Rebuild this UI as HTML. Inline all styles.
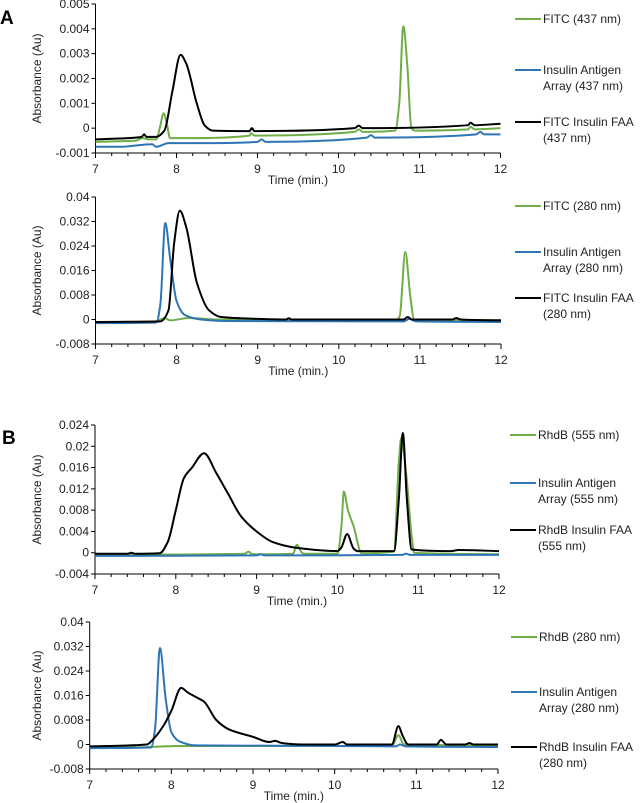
<!DOCTYPE html>
<html><head><meta charset="utf-8"><style>
html,body{margin:0;padding:0;background:#fff;}
svg{display:block;font-family:"Liberation Sans",Arial,sans-serif;}
</style></head><body>
<svg id="fig" width="643" height="803" viewBox="0 0 643 803">
<text x="0" y="24" font-size="19" font-weight="bold">A</text>
<text x="2" y="444" font-size="19" font-weight="bold">B</text>
</svg>
<script>
// ----- data (values in units of 0.001 Au, time in min) -----
const xTicks = [7, 8, 9, 10, 11, 12];
const p1Ticks = [-1, 0, 1, 2, 3, 4, 5];
const p1TickLabels = ["-0.001", "0", "0.001", "0.002", "0.003", "0.004", "0.005"];
const p2Ticks = [-8, 0, 8, 16, 24, 32, 40];
const p2TickLabels = ["-0.008", "0", "0.008", "0.016", "0.024", "0.032", "0.04"];
const p3Ticks = [-4, 0, 4, 8, 12, 16, 20, 24];
const p3TickLabels = ["-0.004", "0", "0.004", "0.008", "0.012", "0.016", "0.02", "0.024"];
const p4Ticks = [-8, 0, 8, 16, 24, 32, 40];
const p4TickLabels = ["-0.008", "0", "0.008", "0.016", "0.024", "0.032", "0.04"];

const p1Green = [[7,-0.55],[7.5,-0.5],[7.58,-0.4],[7.65,-0.45],[7.75,-0.45],[7.8,0.1],[7.84,0.6],[7.88,0.2],[7.92,-0.4],[8.2,-0.4],[8.9,-0.3],[8.92,-0.2],[8.96,-0.3],[10.2,-0.15],[10.25,-0.05],[10.3,-0.15],[10.7,-0.1],[10.75,1.0],[10.8,4.1],[10.85,2.5],[10.9,0.0],[10.95,-0.1],[11.6,-0.05],[11.63,0.05],[11.68,-0.05],[12,0.0]];
const p1Blue = [[7,-0.75],[7.3,-0.75],[7.7,-0.65],[7.75,-0.75],[7.9,-0.6],[8.5,-0.6],[9,-0.55],[9.05,-0.45],[9.1,-0.55],[10.35,-0.38],[10.4,-0.28],[10.45,-0.38],[11.7,-0.25],[11.75,-0.15],[11.8,-0.25],[12,-0.25]];
const p1Black = [[7,-0.45],[7.4,-0.4],[7.57,-0.35],[7.6,-0.25],[7.63,-0.35],[7.75,-0.35],[7.85,-0.1],[7.95,1.5],[8.05,2.95],[8.12,2.6],[8.25,1.0],[8.35,0.1],[8.45,-0.1],[8.9,-0.12],[8.93,0],[8.96,-0.12],[10.2,0.0],[10.25,0.1],[10.3,0.0],[11.6,0.12],[11.63,0.22],[11.68,0.12],[12,0.18]];

const p2Green = [[7,-0.9],[7.75,-0.6],[7.85,0.5],[7.92,-0.3],[8.15,0.5],[8.5,0.0],[10.7,-0.3],[10.75,1],[10.82,22],[10.88,8],[10.93,0],[12,-0.2]];
const p2Blue = [[7,-1.2],[7.75,-1.0],[7.8,5],[7.86,31.5],[7.92,20],[8.0,6],[8.1,1.5],[8.3,0],[8.6,-0.5],[10.8,-0.6],[10.87,0.2],[10.95,-0.6],[12,-0.8]];
const p2Black = [[7,-0.8],[7.8,-0.6],[7.9,3],[7.97,25],[8.04,35.5],[8.12,30],[8.25,12],[8.4,3],[8.55,0.8],[9,0.2],[9.35,0],[9.38,0.4],[9.42,0],[10.8,0],[10.85,0.8],[10.9,0],[11.4,0],[11.45,0.5],[11.5,0],[12,-0.3]];

const p3Green = [[7,-0.4],[8.85,-0.2],[8.9,0.2],[8.95,-0.3],[9.45,-0.2],[9.5,1.5],[9.56,0],[9.6,-0.2],[10.0,-0.2],[10.05,5],[10.08,11.5],[10.13,8],[10.2,5],[10.3,-0.1],[10.7,0.2],[10.76,17],[10.79,21.5],[10.85,15],[10.92,3],[10.95,0],[12,-0.3]];
const p3Blue = [[7,-0.6],[9.0,-0.5],[9.05,-0.3],[9.1,-0.5],[10.8,-0.4],[10.85,-0.2],[10.9,-0.4],[12,-0.4]];
const p3Black = [[7,-0.2],[7.4,-0.2],[7.45,0],[7.5,-0.2],[7.8,-0.1],[7.9,2],[8.0,8],[8.1,14],[8.2,16],[8.35,18.7],[8.5,15],[8.65,11],[8.8,7],[9.0,4],[9.2,2],[9.5,0.9],[10.0,0.3],[10.05,1.0],[10.12,3.5],[10.2,0.8],[10.25,0.3],[10.7,0.3],[10.76,10],[10.81,22.5],[10.86,10],[10.92,0.6],[11.4,0.3],[11.5,0.5],[12,0.3]];

const p4Green = [[7,-1.0],[7.5,-1.0],[8.1,-0.5],[8.5,-0.5],[10.7,-0.5],[10.78,3],[10.85,0],[12,-0.3]];
const p4Blue = [[7,-1.2],[7.75,-1.0],[7.8,5],[7.86,31.5],[7.93,15],[8.0,4],[8.1,1],[8.3,-0.3],[10.75,-0.6],[10.8,0],[10.87,-0.6],[12,-0.8]];
const p4Black = [[7,-0.6],[7.7,0],[7.77,1.5],[7.9,6],[8.0,11],[8.12,18.5],[8.2,17],[8.3,15.5],[8.4,14],[8.55,8],[8.7,5],[9.0,2.5],[9.2,0.8],[9.27,1.2],[9.35,0.5],[9.6,0],[10.0,0],[10.1,0.8],[10.15,0],[10.7,0],[10.78,6],[10.83,3],[10.9,0],[11.25,0],[11.3,1.5],[11.37,0],[11.6,0],[11.65,0.5],[11.7,0],[12,0]];

const GREEN = "#70ad47", BLUE = "#2e75b6", BLACK = "#000000";
const NS = "http://www.w3.org/2000/svg";
const svg = document.getElementById("fig");

function mk(tag, attrs, parent) {
  const e = document.createElementNS(NS, tag);
  for (const k in attrs) e.setAttribute(k, attrs[k]);
  (parent || svg).appendChild(e);
  return e;
}
// monotone cubic (Fritsch-Carlson) path: no overshoot
function smoothPath(pts) {
  const n = pts.length;
  const dx = [], m = [], tan = [];
  for (let i = 0; i < n - 1; i++) {
    dx[i] = pts[i + 1][0] - pts[i][0];
    m[i] = (pts[i + 1][1] - pts[i][1]) / dx[i];
  }
  tan[0] = m[0]; tan[n - 1] = m[n - 2];
  for (let i = 1; i < n - 1; i++) {
    if (m[i - 1] * m[i] <= 0) tan[i] = 0;
    else {
      const w1 = 2 * dx[i] + dx[i - 1], w2 = dx[i] + 2 * dx[i - 1];
      tan[i] = (w1 + w2) / (w1 / m[i - 1] + w2 / m[i]);
    }
  }
  let d = "M" + pts[0][0].toFixed(2) + "," + pts[0][1].toFixed(2);
  for (let i = 0; i < n - 1; i++) {
    const h = dx[i] / 3;
    const c1x = pts[i][0] + h, c1y = pts[i][1] + tan[i] * h;
    const c2x = pts[i + 1][0] - h, c2y = pts[i + 1][1] - tan[i + 1] * h;
    d += "C" + c1x.toFixed(2) + "," + c1y.toFixed(2) + " " + c2x.toFixed(2) + "," + c2y.toFixed(2) + " " + pts[i + 1][0].toFixed(2) + "," + pts[i + 1][1].toFixed(2);
  }
  return d;
}

function panel(cfg) {
  const g = mk("g", {});
  
  
  const { x0, x1, yTop, yBot, ticks, tickLabels } = cfg;
  const vmin = ticks[0], vmax = ticks[ticks.length - 1];
  const X = t => x0 + (t - 7) / 5 * (x1 - x0);
  const Y = v => yBot - (v - vmin) / (vmax - vmin) * (yBot - yTop);
  const ya = mk("line", { x1: x0, y1: yTop, x2: x0, y2: yBot, stroke: "#000", "stroke-width": 1 }, g);
  
  
  ticks.forEach((v, i) => {
    mk("line", { x1: x0 - 4, y1: Y(v), x2: x0, y2: Y(v), stroke: "#000", "stroke-width": 1 }, g);
    const tl = mk("text", { x: x0 - 6, y: Y(v) + 4, "font-size": 12, "text-anchor": "end", fill: "#222" }, g);
    tl.textContent = tickLabels[i];
    
    
  });
  const xa = mk("line", { x1: x0, y1: yBot, x2: x1, y2: yBot, stroke: "#000", "stroke-width": 1 }, g);
  
  
  for (let t = 7; t <= 12.001; t += 0.2) {
    const major = Math.abs(t - Math.round(t)) < 0.01;
    mk("line", { x1: X(t), y1: yBot, x2: X(t), y2: yBot + (major ? 5 : 3), stroke: "#000", "stroke-width": 1 }, g);
  }
  xTicks.forEach(t => {
    const tl = mk("text", { x: X(t), y: yBot + 20, "font-size": 12, "text-anchor": "middle", fill: "#222" }, g);
    tl.textContent = String(t);
    
    
  });
  const xt = mk("text", { x: (x0 + x1) / 2, y: yBot + 31, "font-size": 12, "text-anchor": "middle", fill: "#222" }, g);
  xt.textContent = "Time (min.)";
  
  
  const cy = (yTop + yBot) / 2;
  const yt = mk("text", { x: 0, y: 0, "font-size": 12, "text-anchor": "middle", fill: "#222", transform: "translate(41," + cy + ") rotate(-90)" }, g);
  yt.textContent = "Absorbance (Au)";
  
  
  cfg.series.forEach(s => {
    const pts = s.data.map(p => [X(p[0]), Y(p[1])]);
    const path = mk("path", { d: smoothPath(pts), fill: "none", stroke: s.color, "stroke-width": 2, "stroke-linejoin": "round" }, g);
    
    
  });
  cfg.legend.forEach(l => {
    const lg = mk("g", {}, g);
    
    
    mk("line", { x1: cfg.lx, y1: l.y - 4, x2: cfg.lx + 26, y2: l.y - 4, stroke: l.color, "stroke-width": 2 }, lg);
    l.lines.forEach((txt, i) => {
      const te = mk("text", { x: cfg.lx + 28, y: l.y + i * 16, "font-size": 12, fill: "#222" }, lg);
      te.textContent = txt;
    });
  });
}

panel({ name: "panel-a-437nm", x0: 95.5, x1: 500.5, yTop: 4, yBot: 153, ticks: p1Ticks, tickLabels: p1TickLabels,
  series: [{ key: "fitc", data: p1Green, color: GREEN }, { key: "insulin-antigen-array", data: p1Blue, color: BLUE }, { key: "fitc-insulin-faa", data: p1Black, color: BLACK }],
  lx: 515, legend: [{ y: 23, color: GREEN, lines: ["FITC (437 nm)"] }, { y: 74, color: BLUE, lines: ["Insulin Antigen", "Array (437 nm)"] }, { y: 126, color: BLACK, lines: ["FITC Insulin FAA", "(437 nm)"] }] });

panel({ name: "panel-a-280nm", x0: 95.5, x1: 501, yTop: 197, yBot: 344, ticks: p2Ticks, tickLabels: p2TickLabels,
  series: [{ key: "fitc", data: p2Green, color: GREEN }, { key: "insulin-antigen-array", data: p2Blue, color: BLUE }, { key: "fitc-insulin-faa", data: p2Black, color: BLACK }],
  lx: 515, legend: [{ y: 210, color: GREEN, lines: ["FITC (280 nm)"] }, { y: 256, color: BLUE, lines: ["Insulin Antigen", "Array (280 nm)"] }, { y: 302, color: BLACK, lines: ["FITC Insulin FAA", "(280 nm)"] }] });

panel({ name: "panel-b-555nm", x0: 95, x1: 499, yTop: 425, yBot: 574, ticks: p3Ticks, tickLabels: p3TickLabels,
  series: [{ key: "rhdb", data: p3Green, color: GREEN }, { key: "insulin-antigen-array", data: p3Blue, color: BLUE }, { key: "rhdb-insulin-faa", data: p3Black, color: BLACK }],
  lx: 510, legend: [{ y: 439, color: GREEN, lines: ["RhdB (555 nm)"] }, { y: 487, color: BLUE, lines: ["Insulin Antigen", "Array (555 nm)"] }, { y: 534, color: BLACK, lines: ["RhdB Insulin FAA", "(555 nm)"] }] });

panel({ name: "panel-b-280nm", x0: 89.7, x1: 498, yTop: 622, yBot: 769, ticks: p4Ticks, tickLabels: p4TickLabels,
  series: [{ key: "rhdb", data: p4Green, color: GREEN }, { key: "insulin-antigen-array", data: p4Blue, color: BLUE }, { key: "rhdb-insulin-faa", data: p4Black, color: BLACK }],
  lx: 511, legend: [{ y: 641, color: GREEN, lines: ["RhdB (280 nm)"] }, { y: 696, color: BLUE, lines: ["Insulin Antigen", "Array (280 nm)"] }, { y: 751, color: BLACK, lines: ["RhdB Insulin FAA", "(280 nm)"] }] });
</script>
</body></html>
